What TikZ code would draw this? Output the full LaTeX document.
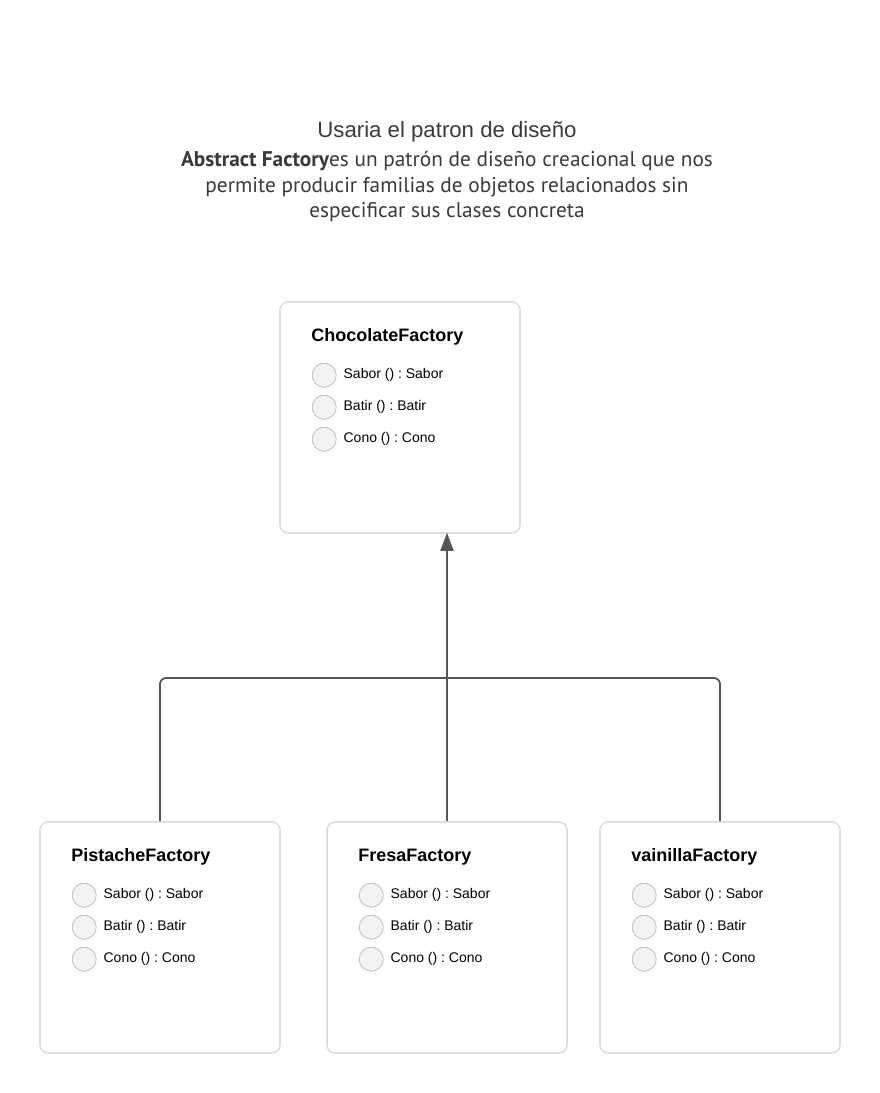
\documentclass[tikz,border=0pt]{standalone}
\usepackage{fontspec}
\setmainfont{Liberation Sans}
\newfontfamily\ptsans{PT Sans}
\usepackage{tikz}
\usetikzlibrary{positioning,arrows.meta}
\definecolor{boxgray}{HTML}{DCDDE0}
\definecolor{dotfill}{HTML}{F1F2F4}
\definecolor{dotgray}{HTML}{BDBEC2}
\definecolor{lineg}{HTML}{555555}
\definecolor{texto}{HTML}{3A3A3A}
\frenchspacing

\begin{document}
\begin{tikzpicture}[x=1pt,y=-1pt,on grid,
  box/.style={draw=boxgray,line width=1.6pt,rounded corners=8pt,fill=white,
    minimum width=240pt,minimum height=231pt},
  clase/.style={font=\fontsize{18}{20}\selectfont\bfseries,anchor=west,inner sep=0pt},
  metodo/.style={circle,draw=dotgray,fill=dotfill,line width=0.8pt,minimum size=24pt,
    inner sep=0pt,label={[font=\fontsize{14}{16}\selectfont,xshift=3.5pt]right:#1}},
  conn/.style={draw=lineg,line width=1.8pt,rounded corners=6pt}]
  \useasboundingbox (0,0) rectangle (880,1093);
  % titulo
  \node[text=texto,font=\fontsize{22.2}{24}\selectfont] (titulo) at (447,132) {Usaria el patron de dise\~no};
  \node[text=texto,align=center,font=\ptsans\fontsize{21.3}{25.5}\selectfont] (desc) at (447,186.5)
    {\textbf{Abstract Factory}es un patrón de diseño creacional que nos\\
     permite producir familias de objetos relacionados sin\\
     especificar sus clases concreta};
  % clases
  \node[box] (cho) at (400,417.5) {};
  \node[box] (pis) at (160,937.5) {};
  \node[box] (fre) at (447,937.5) {};
  \node[box] (vai) at (720,937.5) {};
  % ChocolateFactory
  \node[clase] (choT) [below right=35.5pt and 32pt of cho.north west,anchor=west] {ChocolateFactory};
  \node[metodo={Sabor () : Sabor}] (choS) [below right=74pt and 45pt of cho.north west,anchor=center] {};
  \node[metodo={Batir () : Batir}] (choB) [below=32pt of choS] {};
  \node[metodo={Cono () : Cono}] (choC) [below=32pt of choB] {};
  % PistacheFactory
  \node[clase] (pisT) [below right=35.5pt and 32pt of pis.north west,anchor=west] {PistacheFactory};
  \node[metodo={Sabor () : Sabor}] (pisS) [below right=74pt and 45pt of pis.north west,anchor=center] {};
  \node[metodo={Batir () : Batir}] (pisB) [below=32pt of pisS] {};
  \node[metodo={Cono () : Cono}] (pisC) [below=32pt of pisB] {};
  % FresaFactory
  \node[clase] (freT) [below right=35.5pt and 32pt of fre.north west,anchor=west] {FresaFactory};
  \node[metodo={Sabor () : Sabor}] (freS) [below right=74pt and 45pt of fre.north west,anchor=center] {};
  \node[metodo={Batir () : Batir}] (freB) [below=32pt of freS] {};
  \node[metodo={Cono () : Cono}] (freC) [below=32pt of freB] {};
  % vainillaFactory
  \node[clase] (vaiT) [below right=35.5pt and 32pt of vai.north west,anchor=west] {vainillaFactory};
  \node[metodo={Sabor () : Sabor}] (vaiS) [below right=74pt and 45pt of vai.north west,anchor=center] {};
  \node[metodo={Batir () : Batir}] (vaiB) [below=32pt of vaiS] {};
  \node[metodo={Cono () : Cono}] (vaiC) [below=32pt of vaiB] {};
  % herencia
  \coordinate (junta) at (447,678);
  \draw[conn] (pis.north) |- (junta);
  \draw[conn] (vai.north) |- (junta);
  \draw[conn,-{Triangle[length=18pt,width=13pt]}] (fre.north) -- ([yshift=1pt]fre.north |- cho.south);
\end{tikzpicture}
\end{document}
